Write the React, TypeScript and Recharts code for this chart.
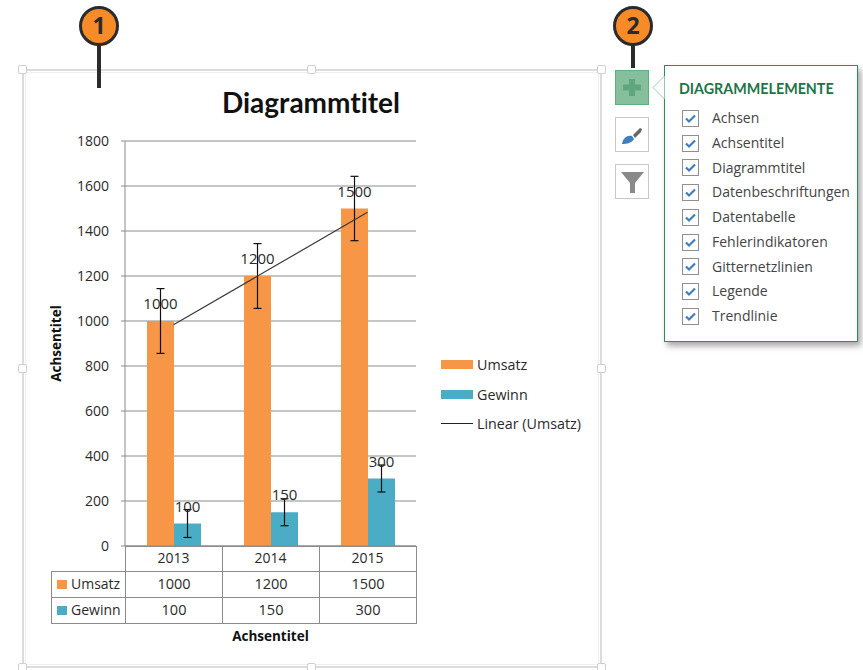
import React from 'react';
import { ComposedChart, Bar, Line, XAxis, YAxis, CartesianGrid, ErrorBar, LabelList, Legend } from 'recharts';

const years = ['2013', '2014', '2015'];
const umsatz = [1000, 1200, 1500];
const gewinn = [100, 150, 300];
const umsatzFehler = [144, 144, 143];
const gewinnFehler = [62, 60, 60];
const trendUmsatz = [983, 1233, 1483];
const yTicks = [0, 200, 400, 600, 800, 1000, 1200, 1400, 1600, 1800];
const menuItems = ['Achsen', 'Achsentitel', 'Diagrammtitel', 'Datenbeschriftungen', 'Datentabelle', 'Fehlerindikatoren', 'Gitternetzlinien', 'Legende', 'Trendlinie'];
const menuRows = [118, 143, 167.5, 192, 217, 242, 266.5, 291, 316];

const ORANGE = '#F79646';
const BLUE = '#4BACC6';
const TEXT = '#2a2a2a';
const LINE_GREY = '#8c8c8c';
const FONT = '"Open Sans", sans-serif';

const chartData = years.map((year, i) => ({
  year,
  umsatz: umsatz[i],
  gewinn: gewinn[i],
  umsatzFehler: umsatzFehler[i],
  gewinnFehler: gewinnFehler[i],
  trend: trendUmsatz[i],
}));

const abs = (left: number, top: number, width?: number, height?: number): React.CSSProperties => ({
  position: 'absolute', left, top, width, height, boxSizing: 'border-box',
});

const LegendContent = ({ payload }: any) => (
  <div style={{ fontFamily: FONT, fontSize: 14.3, color: TEXT }}>
    {(payload || []).map((entry: any) => (
      <div key={entry.value} style={{ display: 'flex', alignItems: 'center', height: 29.5 }}>
        {entry.type === 'line'
          ? <div style={{ width: 32, height: 1, background: '#222' }} />
          : <div style={{ width: 32, height: 9, background: entry.color }} />}
        <span style={{ marginLeft: 4, whiteSpace: 'nowrap' }}>{entry.value}</span>
      </div>
    ))}
  </div>
);

const DataTable = () => {
  const cell: React.CSSProperties = { border: `1px solid ${LINE_GREY}`, padding: 0, paddingBottom: 2, textAlign: 'center', fontSize: 14.5, lineHeight: '20px', color: TEXT, boxSizing: 'border-box' };
  const swatch = (color: string) => <span style={{ display: 'inline-block', width: 10, height: 9, background: color, marginRight: 4 }} />;
  const row = (name: string, color: string, values: number[]) => (
    <tr style={{ height: 26 }}>
      <td style={{ ...cell, textAlign: 'left', paddingLeft: 5, whiteSpace: 'nowrap', fontSize: 14 }}>{swatch(color)}{name}</td>
      {values.map((v) => <td key={v} style={cell}>{v}</td>)}
    </tr>
  );
  return (
    <table style={{ ...abs(51, 546, 366), borderCollapse: 'collapse', tableLayout: 'fixed', fontFamily: FONT }}>
      <colgroup>
        <col style={{ width: 74 }} />
        <col style={{ width: 97 }} />
        <col style={{ width: 97 }} />
        <col style={{ width: 97 }} />
      </colgroup>
      <tbody>
        <tr style={{ height: 25 }}>
          <td style={{ padding: 0, borderBottom: `1px solid ${LINE_GREY}` }} />
          {years.map((y) => <td key={y} style={{ border: `1px solid ${LINE_GREY}`, padding: 0 }} />)}
        </tr>
        {row('Umsatz', ORANGE, umsatz)}
        {row('Gewinn', BLUE, gewinn)}
      </tbody>
    </table>
  );
};

const Callout = ({ x, label, stick }: { x: number; label: string; stick: number }) => (
  <>
    <div style={{ ...abs(x - 2, 40, 4, stick) , background: '#2b2b2b' }} />
    <div style={{ ...abs(x - 20, 6, 40, 40), borderRadius: '50%', background: '#F68B28', border: '3px solid #2b2b2b', textAlign: 'center', fontFamily: FONT, fontWeight: 700, fontSize: 23, lineHeight: '33px', color: '#2b2b2b' }}>{label}</div>
  </>
);

const Handle = ({ x, y }: { x: number; y: number }) => (
  <div style={{ ...abs(x - 4.5, y - 4.5, 9, 9), background: '#fff', border: '1px solid #cfcfcf', borderRadius: 2 }} />
);

const SelectionFrame = () => (
  <>
    <div style={{ ...abs(22, 69, 580, 599), border: '2px solid #dcdcdc' }} />
    <div style={{ ...abs(25, 72, 574, 593), border: '1px solid #efefef' }} />
    {[22, 311, 601].map((x) => <Handle key={`t${x}`} x={x} y={69} />)}
    {[22, 601].map((x) => <Handle key={`m${x}`} x={x} y={368} />)}
    {[22, 311, 601].map((x) => <Handle key={`b${x}`} x={x} y={667} />)}
  </>
);

const SideButtons = () => (
  <>
    <div style={{ ...abs(615, 70, 34, 35), background: '#86BF9B', border: '1px solid #5fae80' }}>
      <svg width={32} height={33}>
        <path d="M13 8h6v5.500h6v6h-6v5.500h-6v-5.500H7v-6h6z" fill="#5fa57d" />
      </svg>
    </div>
    <div style={{ ...abs(615, 117, 34, 35), border: '1px solid #c8c8c8', background: '#fff' }}>
      <svg width={32} height={33}>
        <path d="M6 26c1-6 5-9 10-8l2 3c-2 4-7 5-12 5z" fill="#3f7fc0" />
        <path d="M17 17l7-7 2 1-1 3-6 6z" fill="#666" />
      </svg>
    </div>
    <div style={{ ...abs(615, 164, 34, 35), border: '1px solid #c8c8c8', background: '#fff' }}>
      <svg width={32} height={33}>
        <path d="M5 7h23l-9 11v10h-5V18z" fill="#8a8a8a" />
      </svg>
    </div>
  </>
);

const CheckBox = ({ y }: { y: number }) => (
  <svg style={{ ...abs(682, y - 8.5, 17, 17) }} width={17} height={17}>
    <rect x={0.5} y={0.5} width={16} height={16} fill="#fff" stroke="#8f8f8f" />
    <path d="M4 8.5l3 3 6-6" fill="none" stroke="#3f7fc0" strokeWidth={2.2} />
  </svg>
);

const ElementsPopup = () => (
  <>
    <div style={{ ...abs(663.5, 65, 194, 277), background: '#fff', border: '1.5px solid #2E8B5E', boxShadow: '3px 4px 6px rgba(0,0,0,0.35)' }} />
    <svg style={{ ...abs(652, 76, 13, 24) }} width={13} height={24}>
      <path d="M12.500 0L1 11.500 12.500 23" fill="#fff" stroke="#9fcfb5" />
    </svg>
    <div style={{ ...abs(679, 80), fontFamily: 'Lato, sans-serif', fontWeight: 700, fontSize: 14.3, lineHeight: '18px', color: '#217346', whiteSpace: 'nowrap' }}>DIAGRAMMELEMENTE</div>
    {menuItems.map((item, i) => (
      <React.Fragment key={item}>
        <CheckBox y={menuRows[i]} />
        <div style={{ ...abs(712, menuRows[i] - 10), fontFamily: FONT, fontSize: 14, lineHeight: '20px', color: '#444', whiteSpace: 'nowrap' }}>{item}</div>
      </React.Fragment>
    ))}
  </>
);

const App = () => (
  <div style={{ ...abs(0, 0, 863, 670), background: '#fff', overflow: 'hidden' }}>
    <SelectionFrame />
    <div style={{ ...abs(211, 85, 200), textAlign: 'center', fontFamily: 'Lato, sans-serif', fontWeight: 700, fontSize: 28, lineHeight: '34px', color: '#111', fontVariantLigatures: 'none' }}>Diagrammtitel</div>
    <div style={abs(0, 0)}>
      <ComposedChart
        width={863}
        height={670}
        data={chartData}
        margin={{ top: 141, right: 447, bottom: 24, left: 25 }}
        barSize={27}
        barGap={0}
      >
        <CartesianGrid vertical={false} stroke={LINE_GREY} />
        <XAxis
          dataKey="year"
          height={100}
          tickLine={false}
          axisLine={{ stroke: LINE_GREY }}
          tick={{ fill: TEXT, fontSize: 14, fontFamily: FONT }}
          tickMargin={1}
          label={{ value: 'Achsentitel', position: 'insideBottom', offset: 5, fill: '#111', fontSize: 13.5, fontWeight: 700, fontFamily: FONT }}
        />
        <YAxis
          width={100}
          domain={[0, 1800]}
          ticks={yTicks}
          interval={0}
          tickSize={4}
          tickLine={{ stroke: LINE_GREY }}
          axisLine={{ stroke: LINE_GREY }}
          tick={{ fill: TEXT, fontSize: 14, fontFamily: FONT }}
          tickMargin={12}
          label={{ value: 'Achsentitel', angle: -90, position: 'insideLeft', offset: 31, textAnchor: 'middle', fill: '#111', fontSize: 13.5, fontWeight: 700, fontFamily: FONT }}
        />
        <Bar dataKey="umsatz" name="Umsatz" fill={ORANGE} isAnimationActive={false}>
          <ErrorBar dataKey="umsatzFehler" width={4} stroke="#111" strokeWidth={1.2} isAnimationActive={false} />
          <LabelList dataKey="umsatz" position="top" offset={12} fill={TEXT} fontSize={15} fontFamily={FONT} />
        </Bar>
        <Bar dataKey="gewinn" name="Gewinn" fill={BLUE} isAnimationActive={false}>
          <ErrorBar dataKey="gewinnFehler" width={4} stroke="#111" strokeWidth={1.2} isAnimationActive={false} />
          <LabelList dataKey="gewinn" position="top" offset={12} fill={TEXT} fontSize={15} fontFamily={FONT} />
        </Bar>
        <Line dataKey="trend" name="Linear (Umsatz)" type="linear" stroke="#3a3a3a" strokeWidth={1.2} dot={false} activeDot={false} isAnimationActive={false} />
        <Legend
          layout="vertical"
          align="center"
          verticalAlign="middle"
          itemSorter={null}
          content={<LegendContent />}
          wrapperStyle={{ position: 'absolute', left: 441, top: 350, width: 170, height: 90, margin: 0 }}
        />
      </ComposedChart>
    </div>
    <DataTable />
    <Callout x={99} label="1" stick={48} />
    <Callout x={633} label="2" stick={28} />
    <SideButtons />
    <ElementsPopup />
  </div>
);

export default App;
